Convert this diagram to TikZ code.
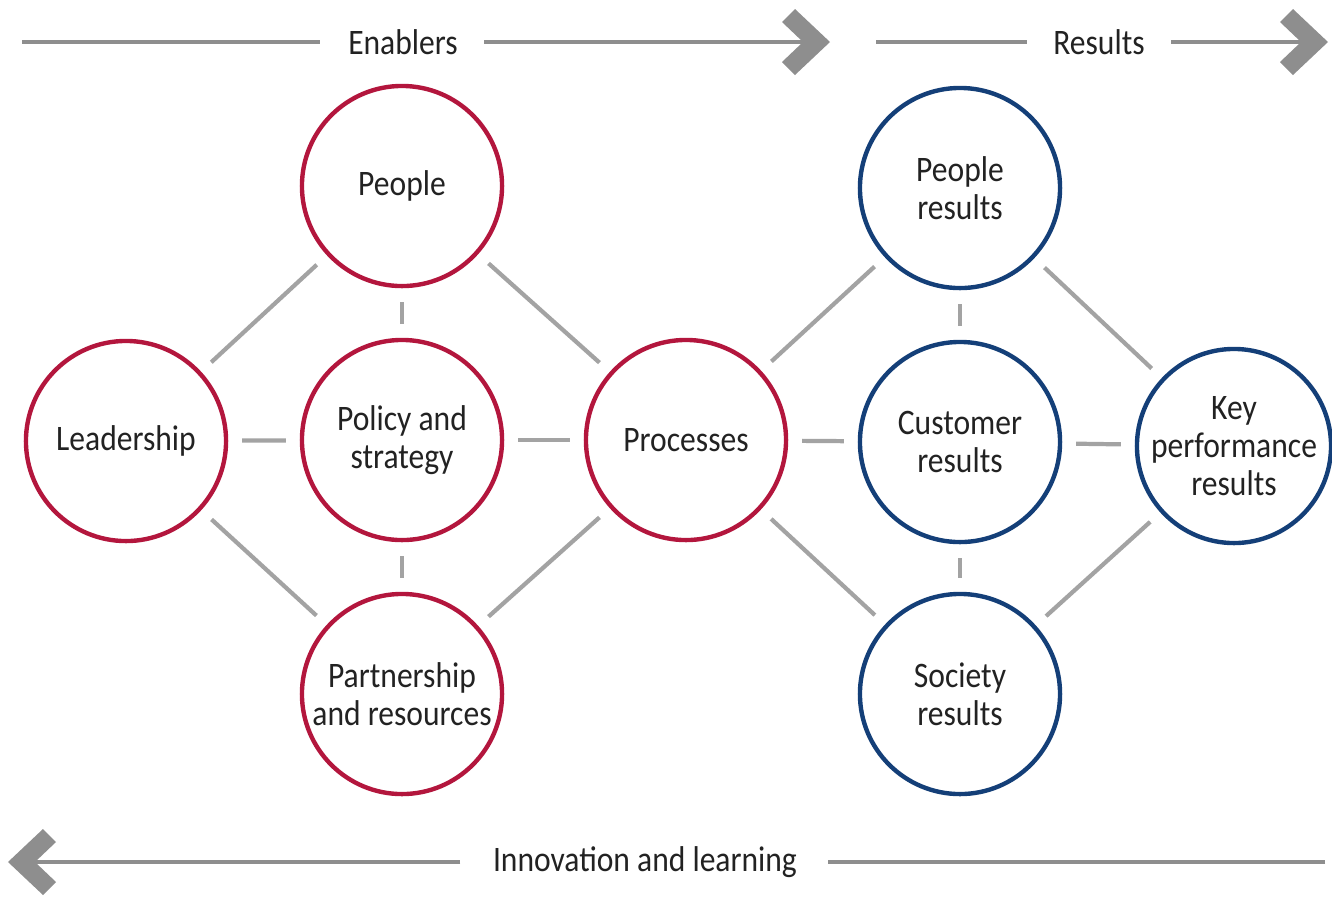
\documentclass[tikz,border=0pt]{standalone}
\usepackage{fontspec}
\setmainfont{Carlito}[FakeStretch=0.88]
\definecolor{efred}{HTML}{B3163D}
\definecolor{efblue}{HTML}{143F78}
\definecolor{conn}{HTML}{A3A3A3}
\definecolor{axis}{HTML}{8E8E8E}
\definecolor{txt}{HTML}{222222}
\tikzset{
  circ/.style={circle, draw, line width=1.25pt, minimum size=2cm, inner sep=0pt, outer sep=0pt,
    align=center, text=txt, font=\fontsize{10.2}{10.8}\selectfont},
  enab/.style={circ, draw=efred},
  resl/.style={circ, draw=efblue},
  link/.style={draw=conn, line width=1.2pt, shorten >=0.16cm, shorten <=0.16cm},
  axisline/.style={draw=axis, line width=1.4pt},
  chev/.style={fill=axis, draw=none},
  axislabel/.style={text=txt, font=\fontsize{10.2}{10.8}\selectfont, inner sep=0pt}
}
\begin{document}
\begin{tikzpicture}[x=0.01cm, y=-0.01cm]
\useasboundingbox (0,0) rectangle (1332,896);
% circles
\node[enab] (lead) at (126,441) {Leadership};
\node[enab] (peop) at (402,186) {People};
\node[enab] (pol) at (402,440) {Policy and\\strategy};
\node[enab] (part) at (402,694) {Partnership\\and resources};
\node[enab] (proc) at (686,440) {Processes};
\node[resl] (pres) at (960,188) {People\\results};
\node[resl] (cres) at (960,442) {Customer\\results};
\node[resl] (sres) at (960,694) {Society\\results};
\node[resl, minimum size=1.94cm] (kres) at (1234,446) {Key\\performance\\results};
% connectors
\draw[link] (lead) -- (pol);
\draw[link] (pol) -- (proc);
\draw[link] (proc) -- (cres);
\draw[link] (cres) -- (kres);
\draw[link] (peop) -- (pol);
\draw[link] (pol) -- (part);
\draw[link] (pres) -- (cres);
\draw[link] (cres) -- (sres);
\draw[link] (lead) -- (peop);
\draw[link] (peop) -- (proc);
\draw[link] (lead) -- (part);
\draw[link] (part) -- (proc);
\draw[link] (proc) -- (pres);
\draw[link] (pres) -- (kres);
\draw[link] (proc) -- (sres);
\draw[link] (sres) -- (kres);
% top axis: enablers
\node[axislabel] (enl) at (403,42) {Enablers};
\coordinate (e0) at (22,42);
\coordinate (e1) at (805,42);
\draw[axisline] (e0) -- ([xshift=-0.28cm]enl.west);
\draw[axisline] ([xshift=0.26cm]enl.east) -- (e1);
\fill[chev] (795,9) -- (830,42) -- (795,75) -- (782,62) -- (803,42) -- (782,22) -- cycle;
% top axis: results
\node[axislabel] (rel) at (1099,42) {Results};
\coordinate (r0) at (876,42);
\coordinate (r1) at (1303,42);
\draw[axisline] (r0) -- ([xshift=-0.26cm]rel.west);
\draw[axisline] ([xshift=0.26cm]rel.east) -- (r1);
\fill[chev] (1293,9) -- (1328,42) -- (1293,75) -- (1280,62) -- (1301,42) -- (1280,22) -- cycle;
% bottom axis
\node[axislabel] (inl) at (645,862) {Innovation and learning};
\coordinate (b0) at (1325,862);
\coordinate (b1) at (33,862);
\draw[axisline] (b0) -- ([xshift=0.3cm]inl.east);
\draw[axisline] ([xshift=-0.32cm]inl.west) -- (b1);
\fill[chev] (43,829) -- (8,862) -- (43,895) -- (56,882) -- (35,862) -- (56,842) -- cycle;
\end{tikzpicture}
\end{document}
